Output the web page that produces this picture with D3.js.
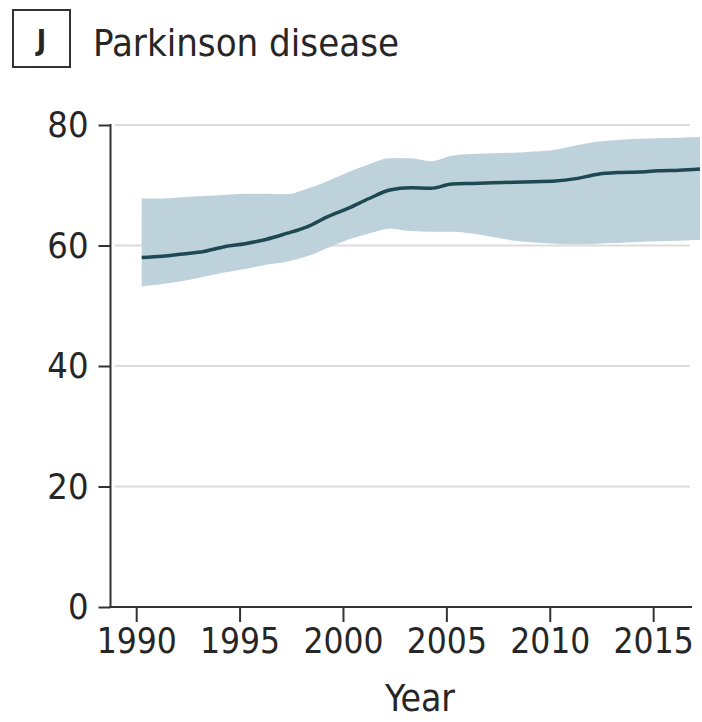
<!DOCTYPE html>
<meta charset="utf-8">
<script src="https://d3js.org/d3.v7.min.js"></script>
<style>
    body { margin: 0; background: #fff; }
    svg text {
        font-family: "DejaVu Sans Condensed", "DejaVu Sans", sans-serif;
        font-stretch: condensed;
        fill: #262626;
    }
</style>
<div id="chart"></div>
<script>
    // values
    let years = d3.range(1990, 2018);
    let meanValues = [58.0, 58.2, 58.6, 59.0, 59.8, 60.3, 61.0, 62.0, 63.1, 64.8,
        66.2, 67.8, 69.2, 69.6, 69.5, 70.2, 70.3, 70.4, 70.5, 70.6,
        70.7, 71.1, 71.8, 72.1, 72.2, 72.4, 72.5, 72.7];
    let upperValues = [67.8, 67.8, 68.0, 68.2, 68.4, 68.6, 68.6, 68.5, 69.4, 70.7,
        72.2, 73.5, 74.5, 74.5, 74.0, 74.9, 75.2, 75.3, 75.4, 75.6,
        75.9, 76.6, 77.2, 77.5, 77.7, 77.8, 77.9, 78.0];
    let lowerValues = [53.2, 53.6, 54.1, 54.8, 55.5, 56.1, 56.8, 57.3, 58.2, 59.6,
        61.0, 62.0, 62.8, 62.4, 62.3, 62.3, 62.0, 61.4, 60.8, 60.5,
        60.3, 60.2, 60.3, 60.4, 60.6, 60.7, 60.8, 60.9];
    let xTicks = [1990, 1995, 2000, 2005, 2010, 2015];
    let yTicks = [0, 20, 40, 60, 80];
    let panelLetter = "J";
    let title = "Parkinson disease";
    let xTitle = "Year";

    let data = years.map(function (yr, i) {
        return {year: yr, mean: meanValues[i], lo: lowerValues[i], hi: upperValues[i]};
    });

    let width = 702, height = 722;
    let axisX = 110.5, axisY = 607, gridRight = 690;

    let svg = d3.select("#chart")
        .append("svg")
        .attr("width", width)
        .attr("height", height);

    let x = d3.scaleLinear()
        .domain([1990, 2017])
        .range([141.7, 700]);

    let y = d3.scaleLinear()
        .domain([0, 80])
        .range([axisY, 125]);

    // horizontal grid lines
    svg.append("g")
        .selectAll("line")
        .data(yTicks.filter(function (d) { return d > 0; }))
        .enter()
        .append("line")
        .attr("x1", 115)
        .attr("x2", gridRight)
        .attr("y1", function (d) { return y(d); })
        .attr("y2", function (d) { return y(d); })
        .style("stroke", "#dcdcdc")
        .style("stroke-width", 2);

    // uncertainty band
    svg.append("path")
        .datum(data)
        .attr("d", d3.area()
            .x(function (d) { return x(d.year); })
            .y0(function (d) { return y(d.lo); })
            .y1(function (d) { return y(d.hi); })
            .curve(d3.curveMonotoneX))
        .style("fill", "#bed2dc");

    // mean line
    svg.append("path")
        .datum(data)
        .attr("d", d3.line()
            .x(function (d) { return x(d.year); })
            .y(function (d) { return y(d.mean); })
            .curve(d3.curveMonotoneX))
        .style("fill", "none")
        .style("stroke", "#1e4852")
        .style("stroke-width", 3.5);

    // y axis
    let yAxis = svg.append("g")
        .attr("transform", "translate(" + axisX + ",0)")
        .call(d3.axisLeft(y).tickValues(yTicks).tickSize(12).tickPadding(10));
    yAxis.select(".domain").remove();
    yAxis.selectAll("line").style("stroke", "#333").style("stroke-width", 2);
    yAxis.selectAll("text").style("font-size", "36px");
    svg.append("line")
        .attr("x1", axisX).attr("x2", axisX)
        .attr("y1", y(80) - 1).attr("y2", axisY)
        .style("stroke", "#333").style("stroke-width", 2);

    // x axis (ticks sit a few px left of the data years, as in the source)
    let xAxis = svg.append("g")
        .attr("transform", "translate(0," + axisY + ")")
        .call(d3.axisBottom(x).tickValues(xTicks).tickFormat(d3.format("d"))
            .tickSize(15).tickPadding(6).offset(-5));
    xAxis.select(".domain").remove();
    xAxis.selectAll("line").style("stroke", "#333").style("stroke-width", 2);
    xAxis.selectAll("text").style("font-size", "35px");
    svg.append("line")
        .attr("x1", axisX - 1).attr("x2", gridRight + 2)
        .attr("y1", axisY).attr("y2", axisY)
        .style("stroke", "#333").style("stroke-width", 2);

    // x axis title
    svg.append("text")
        .attr("x", 420)
        .attr("y", 711)
        .attr("text-anchor", "middle")
        .style("font-size", "37px")
        .text(xTitle);

    // panel letter box and title
    svg.append("rect")
        .attr("x", 13).attr("y", 10)
        .attr("width", 57).attr("height", 57)
        .style("fill", "none")
        .style("stroke", "#333")
        .style("stroke-width", 2);
    svg.append("text")
        .attr("x", 41.5).attr("y", 50)
        .attr("text-anchor", "middle")
        .style("font-size", "28px")
        .style("font-weight", "bold")
        .text(panelLetter);
    svg.append("text")
        .attr("x", 93).attr("y", 56)
        .style("font-size", "38px")
        .text(title);
</script>
